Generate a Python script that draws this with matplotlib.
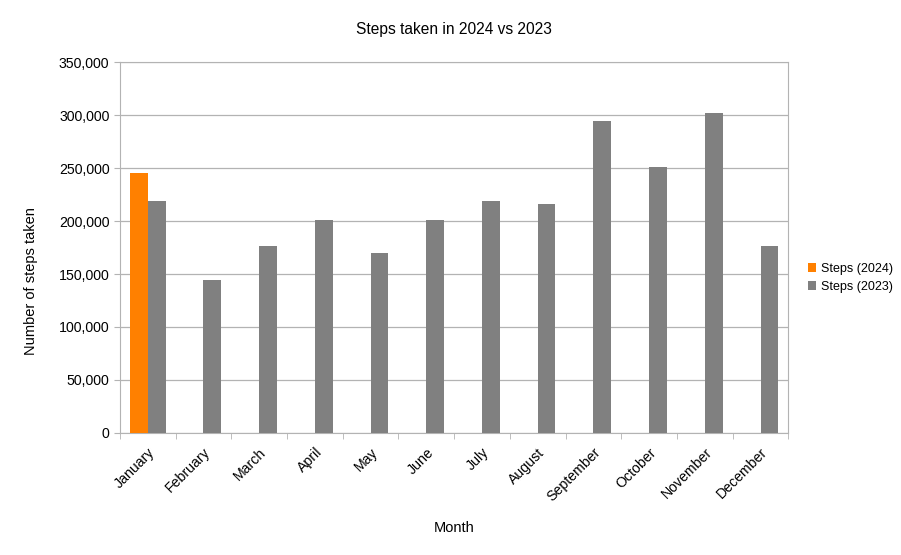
import numpy as np
import matplotlib.pyplot as plt
import matplotlib
from matplotlib.ticker import FuncFormatter

matplotlib.rcParams["font.family"] = ["Liberation Sans", "DejaVu Sans"]

months = ["January", "February", "March", "April", "May", "June",
          "July", "August", "September", "October", "November", "December"]
steps_2024 = [245000, np.nan, np.nan, np.nan, np.nan, np.nan,
              np.nan, np.nan, np.nan, np.nan, np.nan, np.nan]
steps_2023 = [218500, 144000, 176000, 200600, 170000, 200600,
              218600, 215800, 294300, 250600, 301600, 176400]

fig = plt.figure(figsize=(9.01, 5.55), dpi=100)
ax = fig.add_axes([0.133, 0.22, 0.742, 0.668])

x = np.arange(len(months))
w = 0.32
ax.bar(x - w / 2, steps_2024, w, color="#ff8000", label="Steps (2024)", zorder=3)
ax.bar(x + w / 2, steps_2023, w, color="#808080", label="Steps (2023)", zorder=3)

ax.set_xlim(-0.5, len(months) - 0.5)
ax.set_ylim(0, 350000)
ax.set_yticks(np.arange(0, 350001, 50000))
ax.yaxis.set_major_formatter(FuncFormatter(lambda v, p: f"{int(v):,}"))
ax.grid(axis="y", color="#b3b3b3", lw=0.9, zorder=0)

ax.set_xticks(x)
ax.set_xticklabels(months, rotation=45, ha="right", rotation_mode="anchor")
ax.set_xticks(np.arange(-0.5, len(months)), minor=True)
ax.tick_params(axis="x", which="major", length=0, pad=9, labelsize=10.2)
ax.tick_params(axis="x", which="minor", length=4, color="#b3b3b3")
ax.tick_params(axis="y", length=4, color="#b3b3b3", labelsize=10.2)

for s in ax.spines.values():
    s.set_color("#b3b3b3")

ax.set_title("Steps taken in 2024 vs 2023", fontsize=11.2, pad=20)
ax.set_xlabel("Month", fontsize=10.5, labelpad=12)
ax.set_ylabel("Number of steps taken", fontsize=10.5)
ax.yaxis.set_label_coords(-0.123, 0.41)

ax.legend(loc="center left", bbox_to_anchor=(1.012, 0.418), frameon=False,
          fontsize=9, handlelength=0.7, handleheight=0.7, handletextpad=0.4,
          labelspacing=0.5)

fig.savefig("out.png", dpi=100)
plt.close(fig)
